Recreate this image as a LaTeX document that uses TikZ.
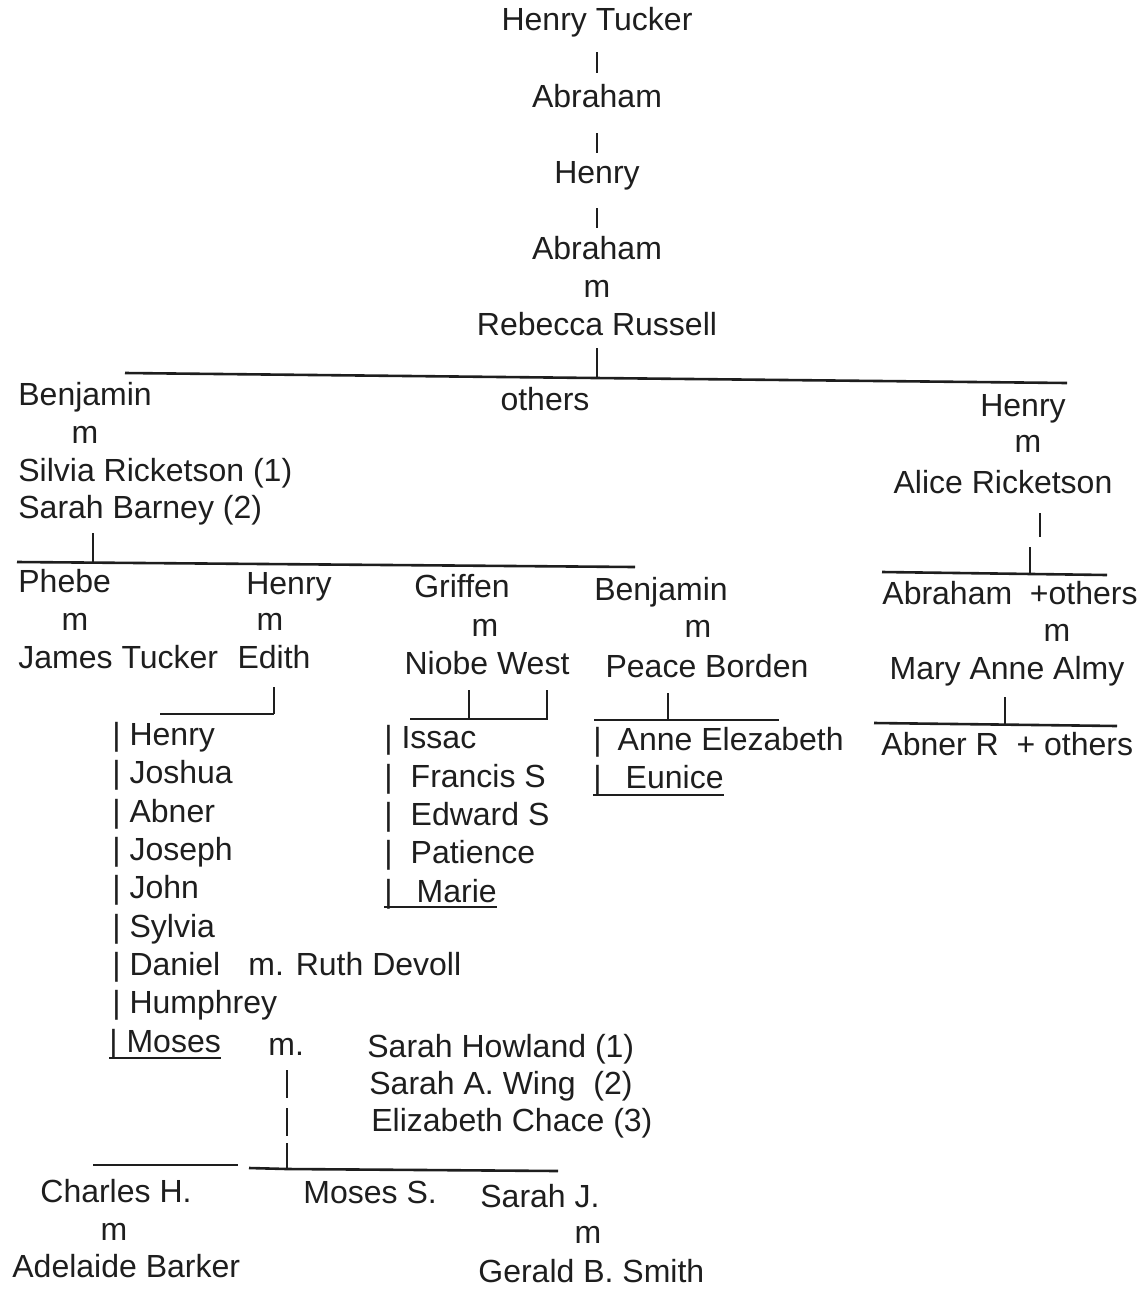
\documentclass[tikz,border=0pt]{standalone}
\usepackage{fontspec}
\setmainfont{Liberation Sans}
\definecolor{ink}{HTML}{1E1E1E}
\newcommand{\treefont}{\fontsize{16}{19}\selectfont}
\tikzset{
  person/.style={inner sep=0pt, anchor=base, font=\treefont, text=ink},
  lperson/.style={person, anchor=base west},
  link/.style={draw=ink, line width=1.3pt},
}

\begin{document}
\begin{tikzpicture}[x=0.5pt, y=-0.5pt]
    \useasboundingbox (0,0) rectangle (1145,1291);

    % Line of descent
    \node [person] (tucker) at (597,30) {Henry Tucker};
    \node [person] (abraham1) at (597,107) {Abraham};
    \node [person] (henry1) at (597,183) {Henry};
    \node [person] (abraham2) at (597,259) {Abraham};
    \node [person] (m1) at (597,297) {m};
    \node [person] (rebecca) at (597,335) {Rebecca Russell};

    \draw [link] ([yshift=-11pt]tucker.base) -- ([yshift=17pt]abraham1.base);
    \draw [link] ([yshift=-13pt]abraham1.base) -- ([yshift=15pt]henry1.base);
    \draw [link] ([yshift=-12.5pt]henry1.base) -- ([yshift=15.5pt]abraham2.base);

    % Children of Abraham and Rebecca
    \coordinate (g1w) at (125,373);
    \coordinate (g1e) at (1067,383);
    \coordinate (g1) at (597,378);
    \draw [link] (g1w) -- (g1e);
    \draw [link] ([yshift=-6.5pt]rebecca.base) -- (g1);

    \node [lperson] (benjamin1) at (18,405) {Benjamin};
    \node [person] (m2) at (85,443) {m};
    \node [lperson] (silvia) at (18,481) {Silvia Ricketson (1)};
    \node [lperson] (sarahb) at (18,518) {Sarah Barney (2)};
    \node [person] (others1) at (545,410) {others};
    \node [person] (henry2) at (1023,416) {Henry};
    \node [person] (m3) at (1028,452) {m};
    \node [person] (alice) at (1003,493) {Alice Ricketson};

    % Children of Benjamin
    \coordinate (g2w) at (17,562);
    \coordinate (g2e) at (635,567);
    \coordinate (g2) at (93,562);
    \draw [link] (g2w) -- (g2e);
    \draw [link] ([shift={(37.5pt,-7.5pt)}]sarahb.base west) -- (g2);

    \node [lperson] (phebe) at (18,592) {Phebe};
    \node [person] (m4) at (75,630) {m};
    \node [lperson] (james) at (18,668) {James Tucker};
    \node [person] (henry3) at (289,594) {Henry};
    \node [person] (m5) at (270,630) {m};
    \node [person] (edith) at (274,668) {Edith};
    \node [person] (griffen) at (462,597) {Griffen};
    \node [person] (m6) at (485,636) {m};
    \node [person] (niobe) at (487,674) {Niobe West};
    \node [person] (benjamin2) at (661,600) {Benjamin};
    \node [person] (m7) at (698,637) {m};
    \node [person] (peace) at (707,677) {Peace Borden};

    % Children of Henry and Alice
    \coordinate (g3w) at (882,572);
    \coordinate (g3e) at (1107,575);
    \coordinate (g3) at (1030,574);
    \draw [link] (g3w) -- (g3e);
    \draw [link] ([shift={(18.5pt,-10pt)}]alice.base) -- ++(0,24);
    \draw [link] ([shift={(13.5pt,-27pt)}]alice.base) -- (g3);

    \node [lperson] (abraham3) at (882,604) {Abraham\ \ +others};
    \node [person] (m8) at (1057,641) {m};
    \node [person] (mary) at (1007,679) {Mary Anne Almy};

    \coordinate (g7w) at (874,723);
    \coordinate (g7e) at (1117,726);
    \coordinate (g7) at (1005,724);
    \draw [link] (g7w) -- (g7e);
    \draw [link] ([shift={(-1pt,-9pt)}]mary.base) -- (g7);
    \node [lperson] (abner) at (881,755) {Abner R\ \ + others};

    % Children of Henry and Edith
    \coordinate (g4w) at (160,714);
    \coordinate (g4) at (274,714);
    \draw [link] (g4w) -- (g4);
    \draw [link] ([yshift=-9.5pt]edith.base) -- (g4);

    \node [lperson] (c1) at (112,745) {| Henry};
    \node [lperson] (c2) at (112,783) {| Joshua};
    \node [lperson] (c3) at (112,822) {| Abner};
    \node [lperson] (c4) at (112,860) {| Joseph};
    \node [lperson] (c5) at (112,898) {| John};
    \node [lperson] (c6) at (112,937) {| Sylvia};
    \node [lperson] (c7) at (112,975) {| Daniel};
    \node [lperson] (c8) at (112,1013) {| Humphrey};
    \node [lperson] (moses) at (109,1052) {| Moses};
    \draw [link] ([yshift=-3pt]moses.base west) -- ([yshift=-3pt]moses.base east);
    \node [lperson] (ruth) at (248,975) {m. Ruth Devoll};

    % Children of Griffen and Niobe
    \coordinate (g5w) at (410,719);
    \coordinate (g5) at (469,719);
    \coordinate (g5e) at (547,719);
    \draw [link] (g5w) -- (g5e) -- ++(0,-29);
    \draw [link] ([shift={(-9pt,-8pt)}]niobe.base) -- (g5);

    \node [lperson] (n1) at (384,748) {| Issac};
    \node [lperson] (n2) at (384,787) {|\hspace{9pt}Francis S};
    \node [lperson] (n3) at (384,825) {|\hspace{9pt}Edward S};
    \node [lperson] (n4) at (384,863) {|\hspace{9pt}Patience};
    \node [lperson] (marie) at (384,902) {|\hspace{12pt}Marie};
    \draw [link] ([yshift=-2.5pt]marie.base west) -- ([yshift=-2.5pt]marie.base east);

    % Children of Benjamin and Peace
    \coordinate (g6w) at (594,720);
    \coordinate (g6e) at (779,720);
    \coordinate (g6) at (668,720);
    \draw [link] (g6w) -- (g6e);
    \draw [link] ([shift={(-19.5pt,-8pt)}]peace.base) -- (g6);

    \node [lperson] (p1) at (593,750) {|\hspace{8pt}Anne Elezabeth};
    \node [lperson] (eunice) at (593,788) {|\hspace{12pt}Eunice};
    \draw [link] ([yshift=-3.5pt]eunice.base west) -- ([yshift=-3.5pt]eunice.base east);

    % Wives of Moses
    \node [lperson] (mdot) at (268,1055) {m.};
    \node [lperson] (howland) at (367,1057) {Sarah Howland (1)};
    \node [lperson] (wing) at (369,1094) {Sarah A. Wing\ \ (2)};
    \node [lperson] (chace) at (371,1131) {Elizabeth Chace (3)};

    % Children of Moses
    \coordinate (g8) at (287,1169);
    \draw [link] ([shift={(9.5pt,-7.5pt)}]mdot.base west) -- ++(0,28);
    \draw [link] (287,1108) -- (287,1136);
    \draw [link] (287,1143) -- (g8);
    \draw [link] (93,1165) -- (238,1165);
    \draw [link] (249,1168) -- (g8) -- (558,1171);

    \node [lperson] (charles) at (40,1202) {Charles H.};
    \node [person] (m9) at (114,1240) {m};
    \node [lperson] (adelaide) at (12,1277) {Adelaide Barker};
    \node [lperson] (mosess) at (303,1203) {Moses S.};
    \node [lperson] (sarahj) at (480,1207) {Sarah J.};
    \node [person] (m10) at (588,1243) {m};
    \node [lperson] (gerald) at (478,1282) {Gerald B. Smith};

\end{tikzpicture}
\end{document}
